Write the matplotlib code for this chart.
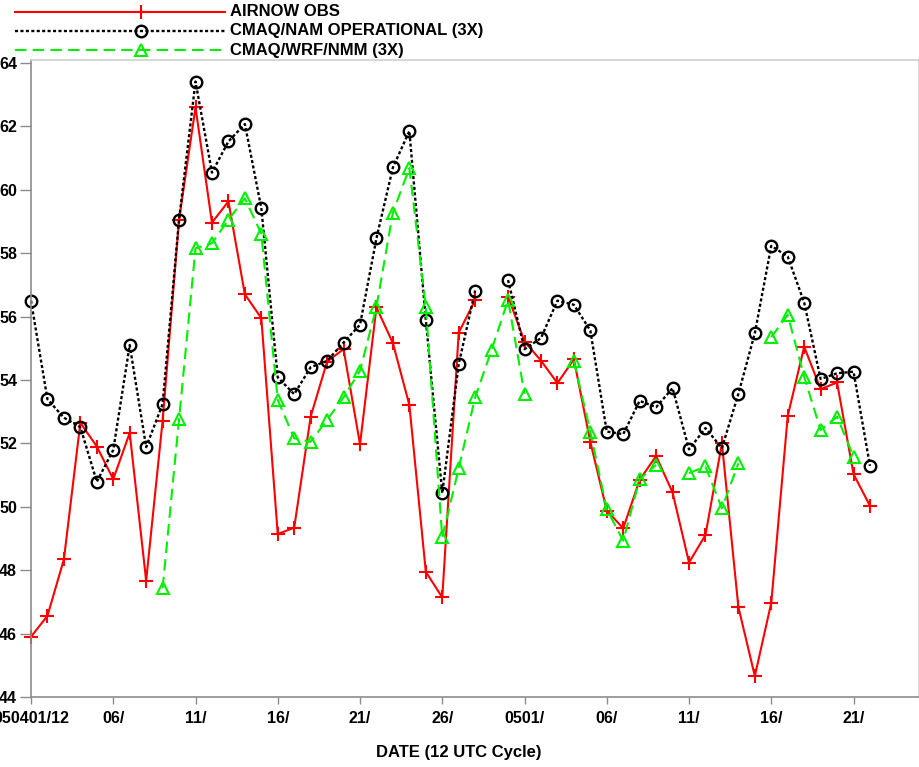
import numpy as np
import pandas as pd
import matplotlib
matplotlib.use("Agg")
import matplotlib.pyplot as plt
import matplotlib.transforms as mtrans
from matplotlib.lines import Line2D

plt.rcParams['font.family'] = ['Liberation Sans', 'DejaVu Sans']
plt.rcParams['font.weight'] = 'bold'

nan = np.nan
start = pd.Timestamp('2005-04-01 12:00')
dates = pd.date_range(start, periods=52, freq='D')

airnow_obs = [45.9, 46.56, 48.34, 52.65, 51.9, 50.87, 52.33, 47.67, 52.71, 59.05,
              62.6, 58.96, 59.63, 56.7, 55.95, 49.14, 49.34, 52.84, 54.58, 54.97,
              51.97, 56.29, 55.16, 53.21, 47.95, 47.14, 55.49, 56.52, nan, 56.63,
              55.21, 54.61, 53.9, 54.65, 52.05, 49.88, 49.32, 50.85, 51.6, 50.45,
              48.24, 49.11, 52.0, 46.84, 44.66, 46.97, 52.86, 55.05, 53.71, 53.92,
              51.03, 50.03]

cmaq_nam = [56.5, 53.39, 52.81, 52.51, 50.79, 51.79, 55.1, 51.88, 53.24, 59.05,
            63.41, 60.54, 61.52, 62.07, 59.42, 54.08, 53.55, 54.4, 54.6, 55.18,
            55.74, 58.47, 60.7, 61.85, 55.89, 50.43, 54.5, 56.82, nan, 57.15,
            54.97, 55.32, 56.5, 56.37, 55.56, 52.37, 52.29, 53.34, 53.14, 53.74,
            51.81, 52.48, 51.85, 53.56, 55.47, 58.23, 57.89, 56.44, 54.03, 54.21,
            54.26, 51.29]

cmaq_wrf = [nan, nan, nan, nan, nan, nan, nan, nan, 47.43, 52.76,
            58.15, 58.31, 59.05, 59.73, 58.61, 53.37, 52.16, 52.05, 52.74, 53.45,
            54.29, 56.31, 59.28, 60.68, 56.31, 49.04, 51.21, 53.45, 54.95, 56.52,
            53.56, nan, nan, 54.6, 52.37, 49.92, 48.93, 50.87, 51.32, nan,
            51.06, 51.27, 49.95, 51.37, nan, 55.35, 56.05, 54.1, 52.42, 52.84,
            51.58, nan]

series_labels = ['AIRNOW OBS', 'CMAQ/NAM OPERATIONAL (3X)', 'CMAQ/WRF/NMM (3X)']
tick_days = [0, 5, 10, 15, 20, 25, 30, 35, 40, 45, 50]
tick_labels = ['050401/12', '06/', '11/', '16/', '21/', '26/', '0501/', '06/', '11/', '16/', '21/']
y_ticks = [44, 46, 48, 50, 52, 54, 56, 58, 60, 62, 64]
x_title = 'DATE (12 UTC Cycle)'

W, H = 920, 767
fig = plt.figure(figsize=(W / 100, H / 100), dpi=100)
ax = fig.add_axes([31 / W, 1 - 697 / H, (919 - 31) / W, (697 - 60) / H])

styles = [
    dict(color='#ff0000', linestyle='-', linewidth=1.5, marker='+', markersize=10,
         markeredgewidth=1.5),
    dict(color='black', linestyle=(0, (1.3, 1.0)), linewidth=1.7, marker='o', markersize=8.3,
         markerfacecolor='none', markeredgewidth=1.7),
    dict(color='#00f000', linestyle=(0, (5.5, 3.0)), linewidth=1.5, marker='^', markersize=8.5,
         markerfacecolor='none', markeredgewidth=1.5),
]

for vals, st in zip([airnow_obs, cmaq_nam, cmaq_wrf], styles):
    ax.plot(dates, vals, clip_on=False, **st)

ax.set_xlim(start, start + pd.Timedelta(days=53.98))
ax.set_ylim(44, 64.09)
ax.set_xticks([start + pd.Timedelta(days=d) for d in tick_days])
ax.set_xticklabels(tick_labels)
ax.set_yticks(y_ticks)
ax.set_yticklabels([str(v) for v in y_ticks])

for lab in ax.get_xticklabels():
    lab.set_transform(lab.get_transform() + mtrans.ScaledTranslation(-4 / 100, 0, fig.dpi_scale_trans))

ax.tick_params(axis='x', length=5, width=1, color='#8c8c8c', pad=5, labelsize=11.5)
ax.tick_params(axis='y', length=8, width=1, color='#8c8c8c', pad=2, labelsize=11.5)
for lab in ax.get_xticklabels() + ax.get_yticklabels():
    lab.set_fontweight('bold')

ax.spines['left'].set_color('#8c8c8c')
ax.spines['bottom'].set_color('#8c8c8c')
ax.spines['top'].set_color('#cfcfcf')
ax.spines['right'].set_color('#cfcfcf')
for s in ax.spines.values():
    s.set_linewidth(1.2)

fig.text(459 / W, 1 - 752 / H, x_title, ha='center', va='center', fontsize=12, fontweight='bold')

# legend drawn above the axes
rows_y = [12, 31, 50]
for lab, st, ry in zip(series_labels, styles, rows_y):
    yf = 1 - ry / H
    line_st = {k: v for k, v in st.items() if not k.startswith('marker')}
    fig.add_artist(Line2D([15 / W, 225 / W], [yf, yf], transform=fig.transFigure, **line_st))
    mk_st = {k: v for k, v in st.items() if k.startswith('marker')}
    fig.add_artist(Line2D([141 / W], [yf], transform=fig.transFigure, color=st['color'],
                          linestyle='none', **mk_st))
    fig.text(230 / W, yf, lab, ha='left', va='center', fontsize=12, fontweight='bold')

fig.savefig('out.png', dpi=100, facecolor='white')
